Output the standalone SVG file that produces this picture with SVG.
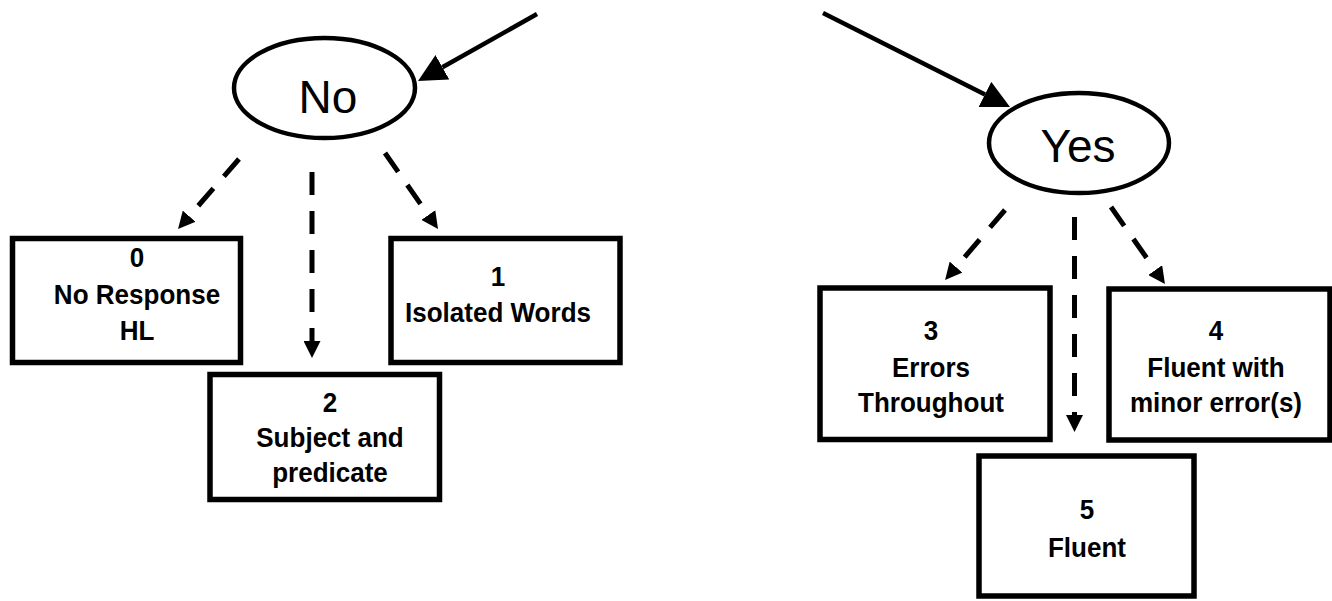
<svg xmlns="http://www.w3.org/2000/svg" width="1332" height="601" viewBox="0 0 1332 601">
<style>
.bg{fill:#fff}
.ell{fill:#fff;stroke:#000;stroke-width:4.5}
.box{fill:#fff;stroke:#000;stroke-width:5.5}
.t{font-family:"Liberation Sans",Arial,sans-serif;font-weight:bold;font-size:28px;fill:#000;text-anchor:middle}
.big{font-family:"Liberation Sans",Arial,sans-serif;font-size:46px;fill:#000;text-anchor:middle}
.solid{fill:none;stroke:#000;stroke-width:4.5}
.dash{fill:none;stroke:#000;stroke-width:5;stroke-dasharray:23 16}
</style>
<defs>
<marker id="headBig" markerUnits="userSpaceOnUse" markerWidth="28" markerHeight="28" refX="0" refY="14" orient="auto" viewBox="0 0 28 28">
<path d="M0,0 L28,14 L0,28 z" fill="#000"/>
</marker>
<marker id="headSmall" markerUnits="userSpaceOnUse" markerWidth="17" markerHeight="17" refX="0" refY="8.5" orient="auto" viewBox="0 0 17 17">
<path d="M0,0 L17,8.5 L0,17 z" fill="#000"/>
</marker>
</defs>
<rect class="bg" x="0" y="0" width="1332" height="601"/>
<g id="connectors">
<path class="solid" d="M537,14 L442.4,67.3" marker-end="url(#headBig)"/>
<path class="solid" d="M823,13 L985,94.4" marker-end="url(#headBig)"/>
<path class="dash" d="M239,159 L189.2,216.2" marker-end="url(#headSmall)"/>
<path class="dash" d="M312,172 L312,341" marker-end="url(#headSmall)"/>
<path class="dash" d="M385,153 L428.3,215" marker-end="url(#headSmall)"/>
<path class="dash" d="M1005,210 L956.1,267.1" marker-end="url(#headSmall)"/>
<path class="dash" d="M1074.5,217 L1074.5,415" marker-end="url(#headSmall)"/>
<path class="dash" d="M1111,207 L1155.2,270.1" marker-end="url(#headSmall)"/>
</g>
<g id="node-no">
<ellipse class="ell" cx="324.5" cy="88" rx="90.5" ry="50"/>
<text class="big" x="328" y="113">No</text>
</g>
<g id="node-yes">
<ellipse class="ell" cx="1079" cy="143" rx="90" ry="50"/>
<text class="big" x="1078" y="162">Yes</text>
</g>
<g id="node-0">
<rect class="box" x="12.5" y="238.5" width="228" height="124"/>
<g transform="translate(137 0) scale(0.93 1)">
<text class="t" x="0" y="267">0</text>
<text class="t" x="0" y="304">No Response</text>
<text class="t" x="0" y="340">HL</text>
</g>
</g>
<g id="node-1">
<rect class="box" x="391" y="238.5" width="229" height="124"/>
<g transform="translate(498 0) scale(0.93 1)">
<text class="t" x="0" y="286">1</text>
<text class="t" x="0" y="322">Isolated Words</text>
</g>
</g>
<g id="node-2">
<rect class="box" x="210" y="374.5" width="229.5" height="125"/>
<g transform="translate(330 0) scale(0.93 1)">
<text class="t" x="0" y="412">2</text>
<text class="t" x="0" y="447">Subject and</text>
<text class="t" x="0" y="482">predicate</text>
</g>
</g>
<g id="node-3">
<rect class="box" x="820" y="288" width="230" height="151.5"/>
<g transform="translate(931 0) scale(0.93 1)">
<text class="t" x="0" y="340">3</text>
<text class="t" x="0" y="377">Errors</text>
<text class="t" x="0" y="412">Throughout</text>
</g>
</g>
<g id="node-4">
<rect class="box" x="1109" y="289" width="221" height="151"/>
<g transform="translate(1216 0) scale(0.93 1)">
<text class="t" x="0" y="340">4</text>
<text class="t" x="0" y="377">Fluent with</text>
<text class="t" x="0" y="412">minor error(s)</text>
</g>
</g>
<g id="node-5">
<rect class="box" x="979" y="456" width="215" height="140"/>
<g transform="translate(1087 0) scale(0.93 1)">
<text class="t" x="0" y="519">5</text>
<text class="t" x="0" y="557">Fluent</text>
</g>
</g>
</svg>
